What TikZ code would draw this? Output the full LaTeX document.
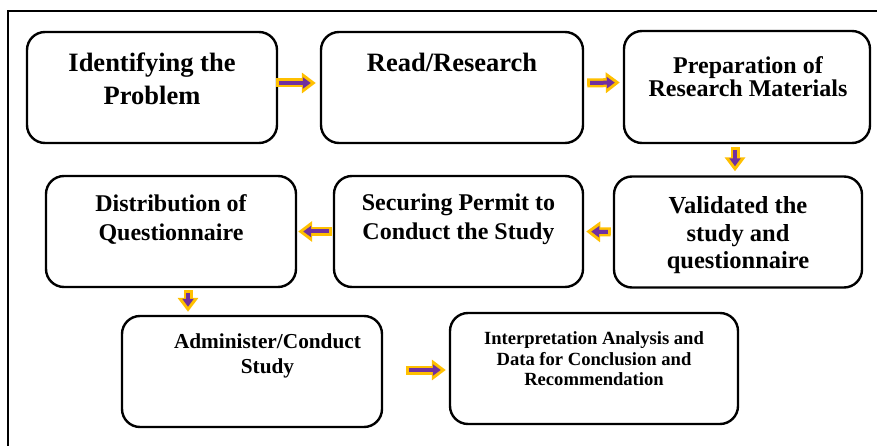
\documentclass[tikz,border=0pt]{standalone}
\usepackage{fontspec}
\setmainfont{Liberation Serif}
\usetikzlibrary{arrows.meta,calc}
\definecolor{gold}{HTML}{FFC000}
\definecolor{violet}{HTML}{7030A0}
\tikzset{
  stepbox/.style={draw=black, line width=2.4pt, rounded corners=18pt, inner sep=0pt},
  lbl/.style={align=center, inner sep=0pt, font=\bfseries},
  outerarrow/.style={draw=gold, line width=9pt, -{Triangle[length=14pt,width=20pt]}},
  innerarrow/.style={draw=violet, line width=4pt, -{Triangle[length=8pt,width=11pt]}, shorten <=3pt, shorten >=5pt},
}
\begin{document}
\begin{tikzpicture}[x=1pt,y=-1pt]
\useasboundingbox (0,0) rectangle (877,446);
\fill[white] (0,0) rectangle (877,446);
% outer frame
\draw[line width=2pt] (8,446) -- (8,11) -- (877,11);
% boxes
\node[stepbox, minimum width=250pt, minimum height=111pt] (b1) at (152,87.5) {};
\node[stepbox, minimum width=262pt, minimum height=111pt] (b2) at (452,87.5) {};
\node[stepbox, minimum width=246pt, minimum height=112pt] (b3) at (747,87) {};
\node[stepbox, minimum width=250pt, minimum height=111pt] (b4) at (171,231.5) {};
\node[stepbox, minimum width=249pt, minimum height=111pt] (b5) at (458.5,231.5) {};
\node[stepbox, minimum width=248pt, minimum height=111pt] (b6) at (738,232) {};
\node[stepbox, minimum width=260pt, minimum height=111pt] (b7) at (252,371.5) {};
\node[stepbox, minimum width=288pt, minimum height=111pt] (b8) at (594,368.5) {};
% labels
\node[lbl, font=\bfseries\fontsize{26.5}{33}\selectfont] (t1) at (152,79) {Identifying the\\Problem};
\node[lbl, font=\bfseries\fontsize{26.5}{33}\selectfont] (t2) at (452,62) {Read/Research};
\node[lbl, font=\bfseries\fontsize{24}{23}\selectfont] (t3) at (748,77) {Preparation of\\Research Materials};
\node[lbl, font=\bfseries\fontsize{24}{29}\selectfont] (t4) at (171,219.5) {Distribution of\\Questionnaire};
\node[lbl, font=\bfseries\fontsize{24}{29}\selectfont] (t5) at (458.5,219.5) {Securing Permit to\\Conduct the Study};
\node[lbl, font=\bfseries\fontsize{24.5}{27.5}\selectfont] (t6) at (738,235.5) {Validated the\\study and\\questionnaire};
\node[lbl, font=\bfseries\fontsize{21.3}{25}\selectfont] (t7) at (267.5,355.5) {Administer/Conduct\\Study};
\node[lbl, font=\bfseries\fontsize{18.6}{20.5}\selectfont] (t8) at (594,359) {Interpretation Analysis and\\Data for Conclusion and\\Recommendation};
% arrow end points
\coordinate (a1s) at ($(b1.east)+(-2,-4.5)$);
\coordinate (a1e) at ($(b2.west)+(-4,-4.5)$);
\coordinate (a2s) at ($(b2.east)+(3,-4.5)$);
\coordinate (a2e) at ($(b3.west)+(-3,-4.5)$);
\coordinate (a3s) at ($(b3.south)+(-12,3)$);
\coordinate (a3e) at ($(b6.north)+(-3,-4)$);
\coordinate (a4s) at ($(b6.west)+(-2,0)$);
\coordinate (a4e) at ($(b5.east)+(2,0)$);
\coordinate (a5s) at ($(b5.west)+(-1,0)$);
\coordinate (a5e) at ($(b4.east)+(1,0)$);
\coordinate (a6s) at ($(b4.south)+(17,2)$);
\coordinate (a6e) at ($(b7.north)+(-64,-3)$);
\coordinate (a7s) at ($(b7.east)+(23,-1.5)$);
\coordinate (a7e) at ($(b8.west)+(-3,1.5)$);
\foreach \s/\e in {a1s/a1e,a2s/a2e,a3s/a3e,a4s/a4e,a5s/a5e,a6s/a6e,a7s/a7e}{
  \draw[outerarrow] (\s) -- (\e);
  \draw[innerarrow] (\s) -- (\e);
}
\end{tikzpicture}
\end{document}
